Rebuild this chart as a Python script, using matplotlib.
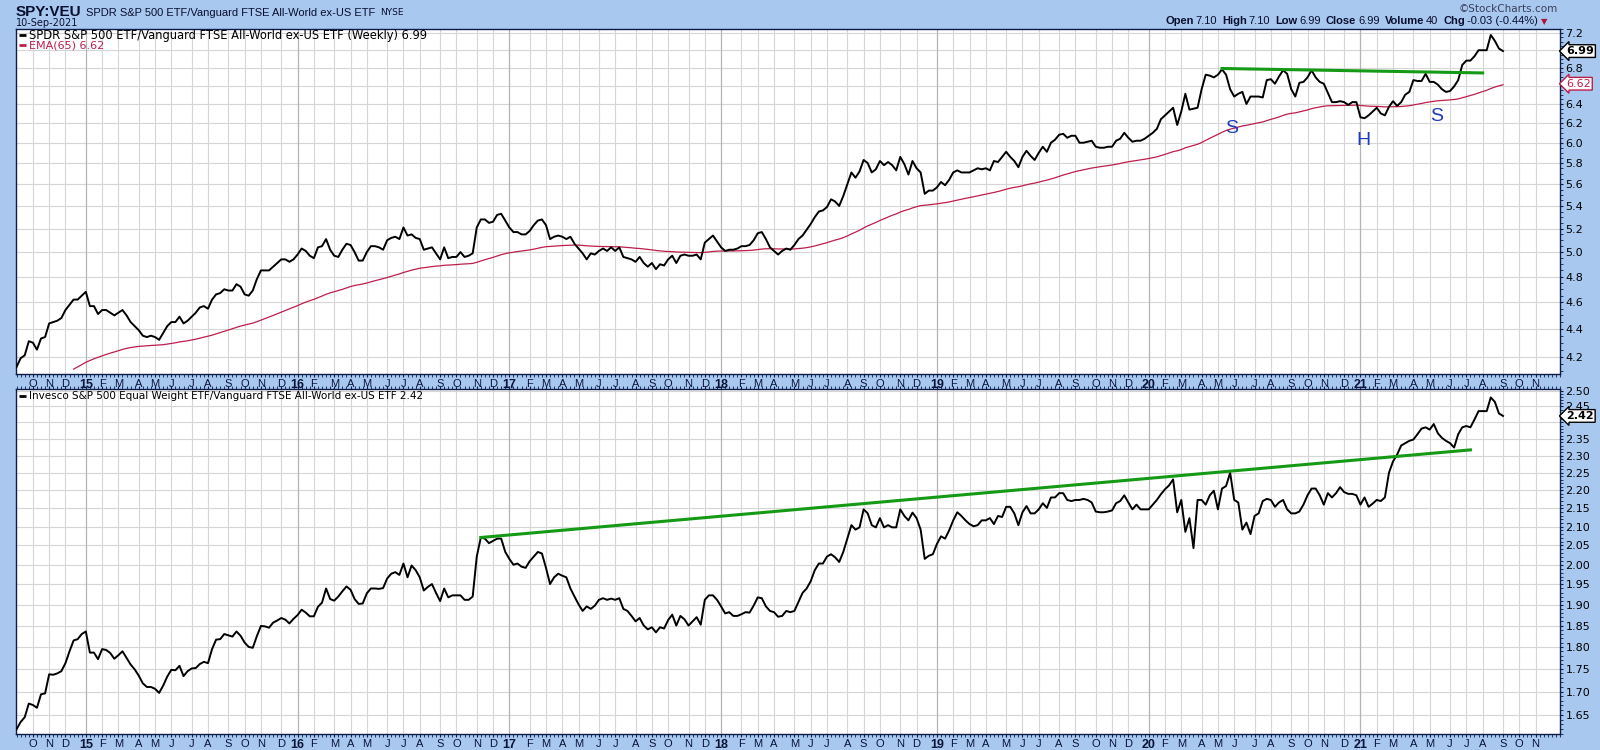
import matplotlib.pyplot as plt
import matplotlib.dates as mdates
import numpy as np
import pandas as pd

# weekly closes, 12-Sep-2014 .. 10-Sep-2021
dates = pd.date_range("2014-09-12", "2021-09-10", freq="W-FRI")

spy_veu = [
    4.13, 4.19, 4.21, 4.31, 4.30, 4.25, 4.33, 4.34, 4.44, 4.45,
    4.46, 4.48, 4.54, 4.58, 4.62, 4.62, 4.65, 4.68, 4.57, 4.57,
    4.51, 4.54, 4.54, 4.52, 4.50, 4.52, 4.54, 4.50, 4.45, 4.42,
    4.39, 4.35, 4.34, 4.35, 4.34, 4.32, 4.37, 4.42, 4.45, 4.45,
    4.49, 4.44, 4.46, 4.49, 4.52, 4.56, 4.57, 4.55, 4.62, 4.66,
    4.67, 4.70, 4.69, 4.69, 4.74, 4.72, 4.66, 4.65, 4.69, 4.78,
    4.85, 4.85, 4.85, 4.88, 4.91, 4.94, 4.94, 4.92, 4.94, 4.98,
    5.03, 5.01, 4.97, 4.95, 5.04, 5.05, 5.11, 5.02, 4.97, 4.96,
    5.02, 5.07, 5.06, 5.00, 4.93, 4.93, 5.00, 5.05, 5.05, 5.04,
    5.02, 5.10, 5.12, 5.13,
    5.11, 5.21, 5.14, 5.15, 5.12, 5.11, 5.02, 5.03, 5.04, 4.99,
    4.94, 5.04, 4.95, 4.96, 4.96, 5.00, 4.96, 4.97, 4.99, 5.21,
    5.28, 5.28, 5.25, 5.26, 5.32, 5.33, 5.27, 5.21, 5.17, 5.17,
    5.15, 5.15, 5.18, 5.23, 5.27, 5.28, 5.23, 5.11, 5.13, 5.14,
    5.13, 5.11, 5.13, 5.07, 5.03, 4.99, 4.94, 4.99, 4.98, 5.01,
    5.03, 5.01, 5.04, 5.01, 5.04, 4.96, 4.95, 4.94, 4.92, 4.96,
    4.91, 4.88, 4.91, 4.86, 4.90, 4.89, 4.94, 4.97, 4.91, 4.97,
    4.98, 4.97, 4.97, 4.98, 4.94, 5.08, 5.11, 5.14, 5.09, 5.04,
    5.01, 5.02, 5.02, 5.03, 5.05, 5.05, 5.06, 5.10, 5.16, 5.17,
    5.11, 5.04, 5.01, 4.98, 5.01, 5.03, 5.02,
    5.06, 5.11, 5.14, 5.19, 5.24, 5.30, 5.35, 5.36, 5.39,
    5.46, 5.44, 5.40, 5.49, 5.60, 5.71, 5.66, 5.72, 5.83, 5.80,
    5.71, 5.74, 5.82, 5.78, 5.81, 5.78, 5.73, 5.86, 5.79, 5.69,
    5.82, 5.75, 5.71, 5.51, 5.54, 5.54, 5.57, 5.62, 5.59, 5.64,
    5.71, 5.73, 5.71, 5.71, 5.71, 5.73, 5.75, 5.74, 5.75, 5.73,
    5.82, 5.81, 5.86, 5.91, 5.86, 5.82, 5.76, 5.86, 5.92, 5.87,
    5.83, 5.90, 5.96, 5.91, 6.00, 6.03, 6.08, 6.09, 6.05, 6.07,
    6.07, 6.00, 6.00, 6.01, 6.02, 5.96, 5.95, 5.95, 5.96, 5.96,
    6.02, 6.04, 6.10, 6.05, 6.01, 6.02, 6.02, 6.04, 6.07, 6.10,
    6.14, 6.24, 6.28, 6.32, 6.36,
    6.18,
    6.32, 6.51, 6.34, 6.35, 6.36, 6.56, 6.72, 6.71, 6.69, 6.72,
    6.78, 6.72, 6.56, 6.48, 6.51, 6.53, 6.40, 6.48, 6.48, 6.48,
    6.47, 6.66, 6.67, 6.62, 6.70, 6.77, 6.73, 6.56, 6.48, 6.63,
    6.64, 6.69, 6.77, 6.69, 6.64, 6.62, 6.52, 6.42, 6.42, 6.43,
    6.42, 6.39, 6.42, 6.42, 6.26, 6.25, 6.28, 6.32, 6.36, 6.30,
    6.28, 6.37, 6.43, 6.38, 6.42, 6.50, 6.53, 6.66, 6.65, 6.65,
    6.73, 6.64, 6.64, 6.61, 6.56, 6.53, 6.54, 6.59, 6.66, 6.83,
    6.88, 6.88, 6.93, 7.00, 7.00, 7.00, 7.18, 7.11, 7.02, 6.99,
]

rsp_veu = [
    1.620, 1.635, 1.645, 1.674, 1.671, 1.665, 1.694, 1.696, 1.738, 1.737,
    1.740, 1.745, 1.763, 1.790, 1.815, 1.818, 1.830, 1.836, 1.787, 1.787,
    1.772, 1.795, 1.793, 1.786, 1.773, 1.781, 1.790, 1.775, 1.760, 1.749,
    1.735, 1.718, 1.710, 1.710, 1.706, 1.697, 1.713, 1.733, 1.748, 1.747,
    1.757, 1.734, 1.745, 1.751, 1.752, 1.761, 1.766, 1.763, 1.795, 1.817,
    1.818, 1.830, 1.827, 1.824, 1.836, 1.826, 1.810, 1.800, 1.798, 1.825,
    1.849, 1.848, 1.845, 1.857, 1.862, 1.868, 1.864, 1.855, 1.866, 1.875,
    1.888, 1.881, 1.872, 1.872, 1.895, 1.905, 1.940, 1.914, 1.910, 1.920,
    1.933, 1.945, 1.937, 1.914, 1.902, 1.903, 1.928, 1.940, 1.940, 1.939,
    1.941, 1.965, 1.977, 1.981,
    1.974, 2.003, 1.968, 1.998, 1.986, 1.968, 1.935, 1.944, 1.951, 1.929,
    1.909, 1.940, 1.918, 1.923, 1.923, 1.923, 1.912, 1.912, 1.920, 2.021,
    2.071, 2.068, 2.056, 2.062, 2.068, 2.068, 2.033, 2.015, 2.000, 2.003,
    1.995, 1.992, 2.009, 2.021, 2.033, 2.029, 1.992, 1.951, 1.968, 1.977,
    1.972, 1.968, 1.940, 1.920, 1.901, 1.885, 1.896, 1.890, 1.898, 1.912,
    1.916, 1.912, 1.915, 1.912, 1.916, 1.890, 1.885, 1.873, 1.860, 1.868,
    1.850, 1.841, 1.846, 1.834, 1.846, 1.843, 1.863, 1.876, 1.850, 1.873,
    1.865, 1.850, 1.860, 1.870, 1.852, 1.912, 1.923, 1.923, 1.912, 1.896,
    1.879, 1.882, 1.873, 1.873, 1.877, 1.882, 1.881, 1.898, 1.918, 1.916,
    1.896, 1.885, 1.882, 1.871, 1.873, 1.885, 1.882,
    1.885, 1.907, 1.929, 1.940, 1.958, 1.986, 2.003, 2.003, 2.021,
    2.027, 2.019, 2.007, 2.033, 2.068, 2.104, 2.092, 2.098, 2.147, 2.136,
    2.104, 2.098, 2.123, 2.098, 2.104, 2.098, 2.098, 2.147, 2.129, 2.117,
    2.138, 2.123, 2.092, 2.015, 2.023, 2.027, 2.054, 2.074, 2.068, 2.090,
    2.117, 2.139, 2.129, 2.117, 2.107, 2.101, 2.104, 2.117, 2.117, 2.123,
    2.107, 2.129, 2.126, 2.154, 2.154, 2.136, 2.104, 2.139, 2.156, 2.136,
    2.136, 2.147, 2.164, 2.151, 2.180, 2.180, 2.192, 2.192, 2.173, 2.170,
    2.173, 2.173, 2.176, 2.173, 2.166, 2.141, 2.139, 2.139, 2.141, 2.144,
    2.164, 2.170, 2.186, 2.166, 2.147, 2.160, 2.147, 2.147, 2.147, 2.160,
    2.173, 2.189, 2.203, 2.214, 2.231,
    2.139,
    2.173, 2.086, 2.123, 2.043, 2.173, 2.173, 2.160, 2.186, 2.199, 2.147,
    2.205, 2.212, 2.250, 2.173, 2.166, 2.092, 2.111, 2.080, 2.129, 2.136,
    2.170, 2.176, 2.173, 2.154, 2.166, 2.173, 2.147, 2.136, 2.136, 2.141,
    2.160, 2.186, 2.205, 2.205, 2.186, 2.160, 2.192, 2.180, 2.192, 2.209,
    2.195, 2.190, 2.190, 2.186, 2.160, 2.180, 2.154, 2.163, 2.173, 2.170,
    2.180, 2.250, 2.283, 2.303, 2.330, 2.337, 2.344, 2.348, 2.364, 2.381,
    2.385, 2.378, 2.395, 2.367, 2.353, 2.344, 2.337, 2.324, 2.364, 2.385,
    2.389, 2.385, 2.409, 2.435, 2.435, 2.435, 2.478, 2.464, 2.428, 2.420,
]

ema_span = 65
ema_seed = 3.95          # EMA value just before the first bar
ema_from = "2014-12-19"  # EMA drawn from here

# trendlines (green) and head & shoulders labels
neck_dates = ["2020-05-15", "2021-08-06"]
neck_vals = [6.79, 6.74]
rsp_line_dates = ["2016-11-18", "2021-07-16"]
rsp_line_vals = [2.071, 2.317]
hs_labels = ["S", "H", "S"]
hs_dates = ["2020-06-01", "2021-01-13", "2021-05-19"]
hs_vals = [6.14, 6.02, 6.27]

quote = [("Open", "7.10"), ("High", "7.10"), ("Low", "6.99"), ("Close", "6.99"),
         ("Volume", "40"), ("Chg", "-0.03 (-0.44%)")]
spy_last, ema_last, rsp_last = 6.99, 6.62, 2.42

top_ticks = np.round(np.arange(4.2, 7.21, 0.2), 2)
bot_ticks = np.round(np.arange(1.65, 2.501, 0.05), 2)

BG = "#a8c8f0"
NAVY = "#0d1c48"
INK = "#0a0f2e"
EMA_C = "#be1e4b"
GREEN = "#159a15"
SANS = ["Liberation Sans", "DejaVu Sans"]

price = pd.Series(spy_veu, index=dates)
rsp = pd.Series(rsp_veu, index=dates)
ema = pd.concat([pd.Series([ema_seed]), pd.Series(spy_veu)]).ewm(
    span=ema_span, adjust=False).mean().iloc[1:]
ema.index = dates

# month ticks: first weekly bar whose week starts in the month
wk = pd.date_range("2014-09-12", "2021-12-31", freq="W-FRI")
mon = wk - pd.Timedelta(days=4)
first = np.r_[True, (mon.month[1:] != mon.month[:-1])]
month_ticks = wk[first]
month_ticks = month_ticks[(month_ticks > pd.Timestamp("2014-09-30")) &
                          (month_ticks < pd.Timestamp("2021-12-01"))]
month_lbl = [f"{d.year % 100:02d}" if d.month == 1 else "JFMAMJJASOND"[d.month - 1]
             for d in month_ticks]

x_left = pd.Timestamp("2014-09-11")
x_right = pd.Timestamp("2021-12-17")

fig = plt.figure(figsize=(16, 7.5), dpi=100, facecolor=BG)
W, H = 1600, 750
ax1 = fig.add_axes([16 / W, 1 - 374 / H, 1544 / W, 345 / H])
ax2 = fig.add_axes([16 / W, 1 - 734 / H, 1544 / W, 345 / H])


def style(ax, ticks, labels, lims, minor_step, top_ticks_on):
    ax.set_facecolor("white")
    ax.set_yscale("log")
    ax.set_ylim(*lims)
    ax.set_xlim(x_left, x_right)
    ax.yaxis.tick_right()
    ax.set_yticks(ticks, labels=labels)
    ax.yaxis.set_minor_locator(plt.MultipleLocator(minor_step))
    ax.yaxis.set_minor_formatter(plt.NullFormatter())
    ax.tick_params(axis="y", which="both", direction="out", length=2.5,
                   color=NAVY, labelsize=8, pad=1.5, labelcolor="black")
    for v in ticks:
        ax.axhline(v, color="#d6d6d6", lw=0.8, zorder=0)
    for d in month_ticks:
        ax.axvline(d, color="#b4b4b4" if d.month == 1 else "#d6d6d6",
                   lw=0.9 if d.month == 1 else 0.8, zorder=0)
    ax.set_xticks(month_ticks, labels=month_lbl)
    ax.xaxis.set_minor_locator(mdates.WeekdayLocator(byweekday=mdates.FR))
    ax.tick_params(axis="x", which="both", direction="out", length=2,
                   color=NAVY, labelsize=8, pad=1.5, labelcolor="#0a1436",
                   top=top_ticks_on)
    for t in ax.get_xticklabels():
        t.set_family(["Liberation Sans Narrow", "Liberation Sans", "DejaVu Sans"])
        if t.get_text().isdigit():
            t.set_fontweight("bold")
            t.set_fontsize(9)
    for s in ax.spines.values():
        s.set_color(NAVY)
        s.set_linewidth(1)


top_lbls = ["" if v in (7.0, 6.6) else f"{v:.1f}" for v in top_ticks]
bot_lbls = ["" if v == 2.4 else f"{v:.2f}" for v in bot_ticks]
style(ax1, top_ticks, top_lbls, (4.081, 7.252), 0.05, False)
style(ax2, bot_ticks, bot_lbls, (1.610, 2.505), 0.01, True)

# price lines
ax1.plot(price.index, price.values, color="black", lw=1.4, zorder=3)
ax1.plot(ema[ema_from:].index, ema[ema_from:].values, color=EMA_C, lw=0.9, zorder=2)
ax1.plot(pd.to_datetime(neck_dates), neck_vals, color=GREEN, lw=2.2, zorder=4)
for s, d, v in zip(hs_labels, hs_dates, hs_vals):
    ax1.text(pd.Timestamp(d), v, s, color="#1d3cb8", fontsize=14,
             family=SANS, ha="center", va="center")

ax2.plot(rsp.index, rsp.values, color="black", lw=1.4, zorder=3)
ax2.plot(pd.to_datetime(rsp_line_dates), rsp_line_vals, color=GREEN, lw=2.2, zorder=4)

# in-panel legends
ax1.plot([0.0019, 0.0065], [0.9826, 0.9826], transform=ax1.transAxes,
         color="black", lw=2, solid_capstyle="butt")
ax1.text(0.0084, 0.9826, "SPDR S&P 500 ETF/Vanguard FTSE All-World ex-US ETF (Weekly) "
         f"{spy_last:.2f}", transform=ax1.transAxes, fontsize=8.3, va="center")
ax1.plot([0.0019, 0.0065], [0.9536, 0.9536], transform=ax1.transAxes,
         color=EMA_C, lw=2, solid_capstyle="butt")
ax1.text(0.0084, 0.9536, f"EMA({ema_span}) {ema_last:.2f}", color=EMA_C,
         transform=ax1.transAxes, fontsize=8.0, va="center")
ax2.plot([0.0019, 0.0065], [0.981, 0.981], transform=ax2.transAxes,
         color="black", lw=2, solid_capstyle="butt")
ax2.text(0.0084, 0.981, "Invesco S&P 500 Equal Weight ETF/Vanguard FTSE All-World ex-US ETF "
         f"{rsp_last:.2f}", transform=ax2.transAxes, fontsize=7.5, va="center")

# last-value markers on the right axis
box = dict(boxstyle="larrow,pad=0.12", fc="white", lw=1)
ax1.annotate(f"{spy_last:.2f}", xy=(1.004, spy_last), xycoords=("axes fraction", "data"),
             fontsize=8, fontweight="bold", va="center", ha="left",
             bbox=dict(box, ec="black"))
ax1.annotate(f"{ema_last:.2f}", xy=(1.004, ema_last), xycoords=("axes fraction", "data"),
             fontsize=8, color=EMA_C, va="center", ha="left",
             bbox=dict(box, ec=EMA_C))
ax2.annotate(f"{rsp_last:.2f}", xy=(1.004, rsp_last), xycoords=("axes fraction", "data"),
             fontsize=8, fontweight="bold", va="center", ha="left",
             bbox=dict(box, ec="black"))

# header, placed piece by piece
renderer = fig.canvas.get_renderer()


def put(x, y, txt, **kw):
    t = fig.text(x / W, 1 - y / H, txt, va="center", color=kw.pop("color", INK), **kw)
    return x + t.get_window_extent(renderer).width


x = put(16, 12, "SPY:VEU", fontsize=11, fontweight="bold", family=SANS)
x = put(x + 4, 12.5, "SPDR S&P 500 ETF/Vanguard FTSE All-World ex-US ETF",
        fontsize=8, family=SANS)
put(x + 5, 12.5, "NYSE", fontsize=6.5)
put(16, 23, "10-Sep-2021", fontsize=7)
fig.text(1558 / W, 1 - 8.5 / H, "\u00a9StockCharts.com", fontsize=7.5, ha="right",
         va="center", color="#3a3f5a")

x = 1165
for name, val in quote:
    x = put(x, 21.5, name, fontsize=8, fontweight="bold", family=SANS) + 2
    x = put(x, 21.5, val, fontsize=8, family=SANS) + 5
put(x - 2, 21.5, "\u25bc", fontsize=6, color="#b0103a")

fig.savefig("out.png", dpi=100, facecolor=BG)
